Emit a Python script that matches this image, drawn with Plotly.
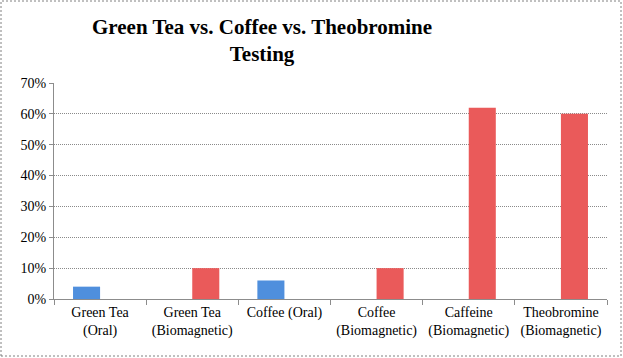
import plotly.graph_objects as go

categories = ["Green Tea<br>(Oral)", "Green Tea<br>(Biomagnetic)", "Coffee (Oral)",
              "Coffee<br>(Biomagnetic)", "Caffeine<br>(Biomagnetic)", "Theobromine<br>(Biomagnetic)"]
oral_values = [0.04, None, 0.06, None, None, None]
bio_values = [None, 0.10, None, 0.10, 0.62, 0.60]
tick_vals = [0, 0.1, 0.2, 0.3, 0.4, 0.5, 0.6, 0.7]
tick_text = ["0%", "10%", "20%", "30%", "40%", "50%", "60%", "70%"]
title_text = "<b>Green Tea vs. Coffee vs. Theobromine<br>Testing</b>"

W, H = 623, 358
L, R, T, B = 54, 16, 83, 59

fig = go.Figure()
fig.add_trace(go.Bar(x=categories, y=oral_values, name="Oral",
                     marker=dict(color="#4f8fdd", line=dict(width=0))))
fig.add_trace(go.Bar(x=categories, y=bio_values, name="Biomagnetic",
                     marker=dict(color="#ea5a5a", line=dict(width=0))))

pw, ph = W - L - R, H - T - B
fig.add_shape(type="rect", xref="paper", yref="paper",
              x0=(1 - L) / pw, x1=(W - L - 2) / pw,
              y0=-(H - T - ph - 2) / ph, y1=(T - 1) / ph + 1,
              line=dict(color="#808080", width=1, dash="2px,2px"), layer="below")

fig.add_annotation(text=title_text, xref="paper", yref="paper",
                   x=(262 - L) / pw, xanchor="center",
                   y=1 + (T - 13) / ph, yanchor="top", showarrow=False,
                   font=dict(family="Liberation Serif, DejaVu Serif, serif", size=21, color="black"))

fig.update_layout(
    width=W, height=H,
    margin=dict(l=L, r=R, t=T, b=B, autoexpand=False),
    paper_bgcolor="white", plot_bgcolor="white",
    barmode="group", bargap=0.413, bargroupgap=0,
    showlegend=False,
    font=dict(family="Liberation Serif, DejaVu Serif, serif", size=14, color="black"),
)
fig.update_xaxes(showline=True, linecolor="#8c8c8c", linewidth=1, automargin=False,
                 ticks="outside", tickson="boundaries", ticklen=5, tickcolor="#8c8c8c",
                 tickangle=0, tickfont=dict(size=14))
fig.update_yaxes(range=[0, 0.7], tickvals=tick_vals, ticktext=tick_text, automargin=False,
                 showline=True, linecolor="#8c8c8c", linewidth=1,
                 ticks="outside", ticklen=4, tickcolor="#8c8c8c",
                 showgrid=True, gridcolor="#8a8a8a", gridwidth=1, griddash="1px,1px",
                 zeroline=False, tickfont=dict(size=14))

fig.write_html("out.html", config={"displayModeBar": False},
               post_script="document.body.style.margin='0';")
